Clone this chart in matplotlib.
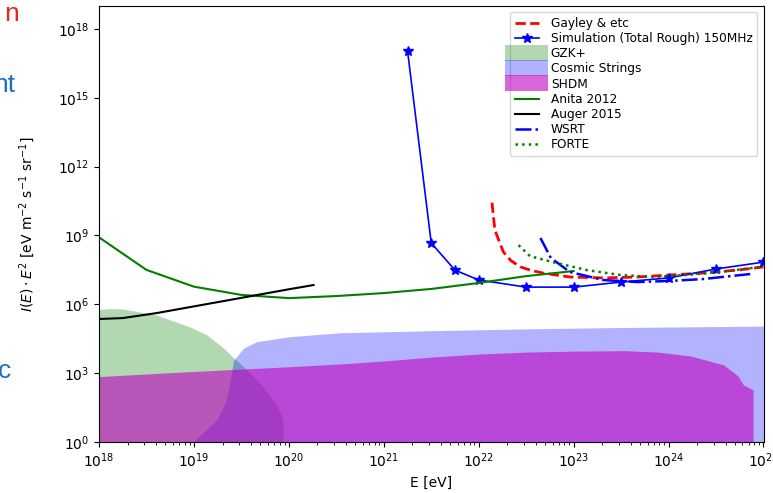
import numpy as np
import matplotlib
matplotlib.use("Agg")
import matplotlib.pyplot as plt
import matplotlib.patches as mpatches
from matplotlib.legend_handler import HandlerPatch
from matplotlib.ticker import LogLocator, NullLocator

# values, log10(E [eV]) and log10(flux)
sim_logE = [21.25, 21.5, 21.75, 22.0, 22.5, 23.0, 23.5, 24.0, 24.5, 25.0]
sim_logF = [17.05, 8.67, 7.49, 7.06, 6.75, 6.75, 6.97, 7.15, 7.54, 7.84]

gayley_logE = [22.14, 22.17, 22.22, 22.26, 22.34, 22.44, 22.55, 22.68, 22.96, 23.31, 23.67, 24.02, 24.36, 24.72, 25.0]
gayley_logF = [10.43, 9.24, 8.7, 8.28, 7.9, 7.63, 7.48, 7.36, 7.19, 7.15, 7.19, 7.28, 7.36, 7.49, 7.63]

wsrt_logE = [22.65, 22.76, 22.96, 23.31, 23.67, 24.02, 24.36, 24.86]
wsrt_logF = [8.89, 8.02, 7.41, 7.06, 6.97, 7.02, 7.10, 7.32]

forte_logE = [22.42, 22.54, 22.78, 23.14, 23.49, 23.84, 24.2, 24.54, 24.97]
forte_logF = [8.58, 8.10, 7.84, 7.49, 7.28, 7.19, 7.28, 7.41, 7.63]

anita_logE = [18.0, 18.5, 19.0, 19.5, 20.0, 20.5, 21.0, 21.5, 22.0, 22.5, 23.0]
anita_logF = [8.92, 7.5, 6.77, 6.41, 6.27, 6.36, 6.49, 6.67, 6.93, 7.23, 7.45]

auger_logE = [18.0, 18.25, 18.61, 18.96, 19.31, 19.67, 20.02, 20.26]
auger_logF = [5.36, 5.4, 5.62, 5.88, 6.14, 6.41, 6.67, 6.84]

gzk_logE = [18.0, 18.1, 18.25, 18.61, 18.96, 19.14, 19.31, 19.41, 19.56, 19.73, 19.88, 19.94]
gzk_logF = [5.78, 5.81, 5.8, 5.53, 5.01, 4.66, 4.10, 3.70, 3.14, 2.40, 1.53, 0.96]

cs_logE = [18.99, 19.24, 19.33, 19.37, 19.40, 19.42, 19.52, 19.66, 20.01, 20.54, 21.5, 22.5, 23.5, 25.0]
cs_logF = [0.0, 0.96, 1.69, 2.41, 3.14, 3.57, 4.08, 4.37, 4.59, 4.76, 4.85, 4.93, 4.99, 5.05]

shdm_logE = [18.0, 18.61, 19.31, 20.01, 20.54, 21.0, 21.5, 22.0, 22.52, 23.0, 23.53, 23.88, 24.23,
             24.58, 24.73, 24.79, 24.89]
shdm_logF = [2.85, 2.99, 3.14, 3.28, 3.40, 3.53, 3.70, 3.83, 3.92, 3.96, 3.98, 3.92, 3.75,
             3.36, 2.88, 2.48, 2.27]

xtick_exp = list(range(18, 26))
ytick_exp = [0, 3, 6, 9, 12, 15, 18]


def p10(a):
    return 10.0 ** np.array(a)


def big_patch(legend, orig_handle, xdescent, ydescent, width, height, fontsize):
    return mpatches.Rectangle((-xdescent - 0.75 * fontsize, -ydescent - 0.3 * fontsize),
                              width + 1.5 * fontsize, height + 0.6 * fontsize)


fig = plt.figure(figsize=(7.73, 4.93), dpi=100)
ax = fig.add_axes([99 / 773, 51 / 493, 664.5 / 773, 436 / 493])

ax.fill_between(p10(gzk_logE), 1e-2, p10(gzk_logF), color='g', alpha=0.3, lw=0)
ax.fill_between(p10(cs_logE), 1e-2, p10(cs_logF), color='b', alpha=0.3, lw=0)
ax.fill_between(p10(shdm_logE), 1e-2, p10(shdm_logF), color='m', alpha=0.6, lw=0)

l_gay, = ax.plot(p10(gayley_logE), p10(gayley_logF), 'r--', lw=2)
l_sim, = ax.plot(p10(sim_logE), p10(sim_logF), '-*', color='b', lw=1.2, markersize=7)
l_an, = ax.plot(p10(anita_logE), p10(anita_logF), color='g', lw=1.5)
l_au, = ax.plot(p10(auger_logE), p10(auger_logF), color='k', lw=1.5)
l_ws, = ax.plot(p10(wsrt_logE), p10(wsrt_logF), '-.', color='b', lw=1.8)
l_fo, = ax.plot(p10(forte_logE), p10(forte_logF), ':', color='g', lw=1.8)

ax.set_xscale('log')
ax.set_yscale('log')
ax.set_xlim(1e18, 1e25)
ax.set_ylim(1e0, 1e19)
ax.set_xticks(p10(xtick_exp))
ax.xaxis.set_minor_locator(LogLocator(base=10, subs=np.arange(2, 10), numticks=50))
ax.set_yticks(p10(ytick_exp))
ax.yaxis.set_minor_locator(NullLocator())
ax.tick_params(labelsize=10)

ax.set_xlabel('E [eV]', fontsize=10)
ax.set_ylabel(r'$I(E)\cdot E^2$ [eV m$^{-2}$ s$^{-1}$ sr$^{-1}$]', fontsize=10)
ax.yaxis.set_label_coords(-0.093, 0.5)

p_gzk = mpatches.Patch(color='g', alpha=0.3, lw=0)
p_cs = mpatches.Patch(color='b', alpha=0.3, lw=0)
p_sh = mpatches.Patch(color='m', alpha=0.6, lw=0)
handles = [l_gay, l_sim, p_gzk, p_cs, p_sh, l_an, l_au, l_ws, l_fo]
labels = ['Gayley & etc', 'Simulation (Total Rough) 150MHz', 'GZK+', 'Cosmic Strings', 'SHDM',
          'Anita 2012', 'Auger 2015', 'WSRT', 'FORTE']
ax.legend(handles, labels, loc='upper right', fontsize=8.7, labelspacing=0.18,
          handletextpad=1.0,
          handler_map={mpatches.Patch: HandlerPatch(patch_func=big_patch)})

# fragments of slide text peeking in from the left
fig.text(19 / 773, 1 - 21 / 493, 'n', color='#e8262a', fontsize=19, ha='right',
         family='Liberation Sans')
fig.text(15 / 773, 1 - 92 / 493, 'nt', color='#1f6fbf', fontsize=19, ha='right',
         family='Liberation Sans')
fig.text(11 / 773, 1 - 378 / 493, 'c', color='#1f6fbf', fontsize=19, ha='right',
         family='Liberation Sans')

fig.savefig('out.png', dpi=100)
